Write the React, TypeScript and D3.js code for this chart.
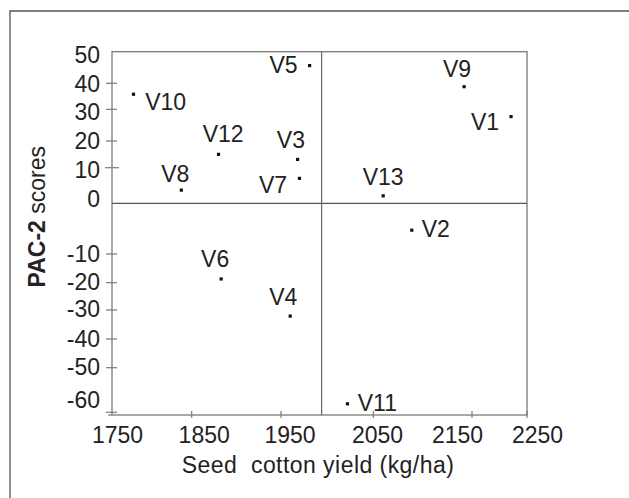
import React from "react";
import * as d3 from "d3";

// ---- data ----
const varieties = ["V1", "V2", "V3", "V4", "V5", "V6", "V7", "V8", "V9", "V10", "V11", "V12", "V13"];
const yieldKgHa = [2221, 2089, 1968, 1960, 1981, 1883, 1970, 1837, 2142, 1777, 2022, 1880, 2060];
const pac2Scores = [27.7, -5.3, 13.1, -32.1, 45.6, -18.7, 7.0, 3.7, 38.7, 35.8, -58.1, 15.0, 2.1];
const meanYield = 1994;
const xTicks = [1750, 1850, 1950, 2050, 2150, 2250];
const yTicks = [-60, -50, -40, -30, -20, -10, 0, 10, 20, 30, 40, 50];
const xTitle = "Seed  cotton yield (kg/ha)";
const yTitleBold = "PAC-2";
const yTitleRest = " scores";

// label placement (style only)
const labelPlacement: Record<string, [string, number, number]> = {
  V1: ["end", -12, 13.3],
  V2: ["start", 10, 7.3],
  V3: ["middle", -6.7, -11.6],
  V4: ["middle", -7, -11],
  V5: ["end", -12, 7.6],
  V6: ["middle", -6, -12.3],
  V7: ["end", -12.3, 15],
  V8: ["middle", -6, -8.3],
  V9: ["middle", -7, -10],
  V10: ["start", 11.7, 15.7],
  V11: ["start", 10.3, 6.7],
  V12: ["middle", 4.7, -12.6],
  V13: ["middle", 0, -10.7],
};

const FONT = "'Liberation Sans', Arial, Helvetica, sans-serif";
const TXT = "#222";
const LINE = "#7a7a7a";

export default function App() {
  const left = 112, right = 527, top = 51.7, bottom = 415;
  // hand-drawn axis spacing reproduced with piecewise-linear scales
  const x = d3.scaleLinear().domain(xTicks).range([left, 191.7, 281, 373.3, 472, right]);
  const xLab = d3.scaleLinear().domain(xTicks).range([117.5, 204.2, 290, 377.5, 457.5, 537.5]);
  const y = d3.scaleLinear().domain(yTicks).range([412.3, 367.7, 339, 310, 282.7, 254, 203.3, 167.7, 141, 109.3, 83.3, top]);
  const yLab = d3.scaleLinear().domain(yTicks).range([408.3, 375, 346.7, 317.3, 290, 261.7, 206.7, 178.3, 149.3, 120, 91.7, 63.3]);

  const pts = varieties.map((v, i) => ({ v, x: x(yieldKgHa[i]), y: y(pac2Scores[i]) }));

  return (
    <div style={{ position: "absolute", left: 0, top: 0 }}>
      <svg width={629} height={498} style={{ display: "block", background: "#fff" }} fontFamily={FONT}>
        {/* outer frame */}
        <path d="M10,498 V11 H629" fill="none" stroke="#555" strokeWidth={1.3} />
        {/* plot box */}
        <rect x={left} y={top} width={right - left} height={bottom - top} fill="none" stroke={LINE} strokeWidth={1.3} />
        {/* quadrant lines */}
        <line x1={left} x2={right} y1={y(0)} y2={y(0)} stroke="#555" strokeWidth={1.2} />
        <line x1={x(meanYield)} x2={x(meanYield)} y1={top} y2={bottom} stroke="#666" strokeWidth={1.2} />
        {/* y ticks */}
        {yTicks.filter((t) => t !== 0 && t !== 50).map((t) => (
          <line key={"yt" + t} x1={t === 10 ? 105 : 106} x2={t === 10 ? 119 : 117} y1={y(t)} y2={y(t)} stroke={LINE} strokeWidth={1.2} />
        ))}
        {yTicks.map((t) => (
          <text key={"yl" + t} x={100} y={yLab(t)} textAnchor="end" fontSize={23} fill={TXT}>
            {t}
          </text>
        ))}
        {/* x ticks */}
        {xTicks.slice(1).map((t) => (
          <line key={"xt" + t} x1={x(t)} x2={x(t)} y1={411} y2={418} stroke={LINE} strokeWidth={1.2} />
        ))}
        <line x1={108} x2={left} y1={bottom} y2={bottom} stroke={LINE} strokeWidth={1.2} />
        {xTicks.map((t) => (
          <text key={"xl" + t} x={xLab(t)} y={443.3} textAnchor="middle" fontSize={23} fill={TXT}>
            {t}
          </text>
        ))}
        {/* points */}
        {pts.map((p) => (
          <rect key={"p" + p.v} x={p.x - 1.6} y={p.y - 1.6} width={3.2} height={3.2} fill="#111" />
        ))}
        {pts.map((p) => {
          const [anchor, dx, dy] = labelPlacement[p.v];
          return (
            <text key={"l" + p.v} x={p.x + dx} y={p.y + dy} textAnchor={anchor as any} fontSize={23} fill={TXT}>
              {p.v}
            </text>
          );
        })}
        {/* axis titles */}
        <text x={318} y={473} textAnchor="middle" fontSize={23} fill={TXT} letterSpacing={0.45} style={{ whiteSpace: "pre" }} xmlSpace="preserve">
          {xTitle}
        </text>
        <text
          transform="translate(45,216.7) rotate(-90)"
          textAnchor="middle"
          fontSize={23}
          fill={TXT}
          style={{ whiteSpace: "pre" }}
          xmlSpace="preserve"
        >
          <tspan fontWeight="bold">{yTitleBold}</tspan>
          <tspan>{yTitleRest}</tspan>
        </text>
      </svg>
    </div>
  );
}
